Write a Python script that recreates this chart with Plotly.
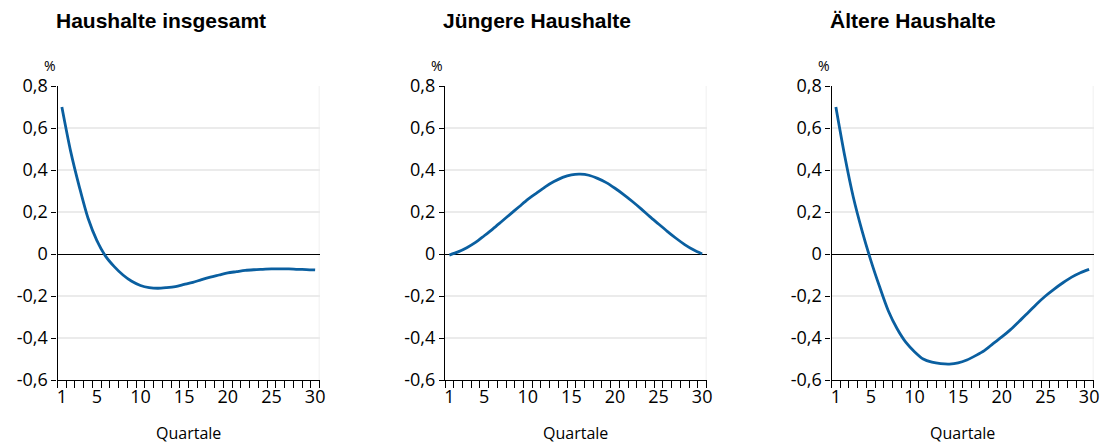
import plotly.graph_objects as go

quarters = list(range(1, 31))

total = [0.70, 0.49, 0.32, 0.17, 0.065, -0.01, -0.06, -0.10, -0.13, -0.15,
         -0.16, -0.163, -0.16, -0.155, -0.145, -0.135, -0.122, -0.11, -0.10, -0.09,
         -0.084, -0.078, -0.075, -0.073, -0.071, -0.071, -0.071, -0.073, -0.074, -0.076]

younger = [-0.005, 0.01, 0.03, 0.055, 0.087, 0.12, 0.155, 0.19, 0.225, 0.26,
           0.29, 0.32, 0.345, 0.365, 0.377, 0.38, 0.375, 0.36, 0.34, 0.313,
           0.283, 0.25, 0.215, 0.178, 0.143, 0.108, 0.075, 0.045, 0.02, 0.0]

older = [0.70, 0.47, 0.27, 0.11, -0.03, -0.155, -0.27, -0.355, -0.42, -0.465,
         -0.50, -0.515, -0.522, -0.524, -0.519, -0.505, -0.484, -0.46, -0.427, -0.395,
         -0.36, -0.32, -0.28, -0.238, -0.20, -0.167, -0.137, -0.11, -0.089, -0.073]

titles = ["Haushalte insgesamt", "Jüngere Haushalte", "Ältere Haushalte"]
series = [total, younger, older]

ytickvals = [-0.6, -0.4, -0.2, 0, 0.2, 0.4, 0.6, 0.8]
yticktext = ["-0,6", "-0,4", "-0,2", "0", "0,2", "0,4", "0,6", "0,8"]
xtickvals = [1, 5, 10, 15, 20, 25, 30]
xtitle = "Quartale"

W, H = 1103, 445
# pixel positions of plot areas
x_px = [(57.5, 319.5), (445, 706.5), (831.5, 1093.5)]
title_px = [54, 441, 828]
pct_px = [49.5, 437, 824]
y_top, y_bot = 86, 380

FONT = "Open Sans"
TFONT = "Liberation Sans"
LINE_COLOR = "#0a5fa0"

fig = go.Figure()
layout = dict(
    width=W, height=H,
    margin=dict(l=0, r=0, t=0, b=0),
    paper_bgcolor="white", plot_bgcolor="white",
    showlegend=False,
    font=dict(family=FONT, color="#000000"),
)
annotations = []
shapes = []
for i, (ttl, vals) in enumerate(zip(titles, series)):
    n = "" if i == 0 else str(i + 1)
    fig.add_trace(go.Scatter(
        x=quarters, y=vals, mode="lines",
        line=dict(color=LINE_COLOR, width=2.8, shape="spline", smoothing=0.8),
        xaxis="x" + n, yaxis="y" + n, hoverinfo="skip",
    ))
    x0, x1 = x_px[i]
    layout["xaxis" + n] = dict(
        domain=[x0 / W, x1 / W], anchor="y" + n, automargin=False,
        range=[0.5, 30.5], tickmode="array", tickvals=xtickvals,
        ticks="outside", ticklen=0, tickcolor="black",
        showline=True, linecolor="black", linewidth=1.2,
        showgrid=False, zeroline=False,
        tickfont=dict(size=18, family=FONT, color="#000"),
        minor=dict(ticks="outside", ticklen=7, tickcolor="black", tickwidth=1,
                   tick0=0.5, dtick=1, showgrid=False),
        fixedrange=True,
    )
    layout["yaxis" + n] = dict(
        domain=[1 - y_bot / H, 1 - y_top / H], anchor="x" + n, automargin=False,
        range=[-0.6, 0.8], tickmode="array", tickvals=ytickvals, ticktext=yticktext,
        ticks="outside", ticklen=5, tickcolor="black",
        showline=True, linecolor="black", linewidth=1.2,
        showgrid=True, gridcolor="#ebebeb", gridwidth=1.5,
        zeroline=True, zerolinecolor="black", zerolinewidth=1.2,
        tickfont=dict(size=18, family=FONT, color="#000"),
        fixedrange=True,
    )
    # light right border
    shapes.append(dict(type="line", xref="x" + n, yref="y" + n,
                       x0=30.5, x1=30.5, y0=-0.6, y1=0.8,
                       line=dict(color="#ebebeb", width=1.5), layer="below"))
    annotations.append(dict(
        text="<b>" + ttl + "</b>", xref="paper", yref="paper",
        x=title_px[i] / W, y=1 - 20.5 / H, xanchor="left", yanchor="middle",
        showarrow=False, font=dict(size=21, family=TFONT, color="#000"),
    ))
    annotations.append(dict(
        text="%", xref="paper", yref="paper",
        x=pct_px[i] / W, y=1 - 65 / H, xanchor="center", yanchor="middle",
        showarrow=False, font=dict(size=14, family=FONT, color="#000"),
    ))
    annotations.append(dict(
        text=xtitle, xref="paper", yref="paper",
        x=(x0 + x1) / 2 / W, y=1 - 433 / H, xanchor="center", yanchor="middle",
        showarrow=False, font=dict(size=16, family=FONT, color="#000"),
    ))

layout["annotations"] = annotations
layout["shapes"] = shapes
fig.update_layout(**layout)
fig.write_html(
    "out.html",
    config={"displayModeBar": False},
    post_script="document.body.style.margin='0';document.body.style.overflow='hidden';",
)
